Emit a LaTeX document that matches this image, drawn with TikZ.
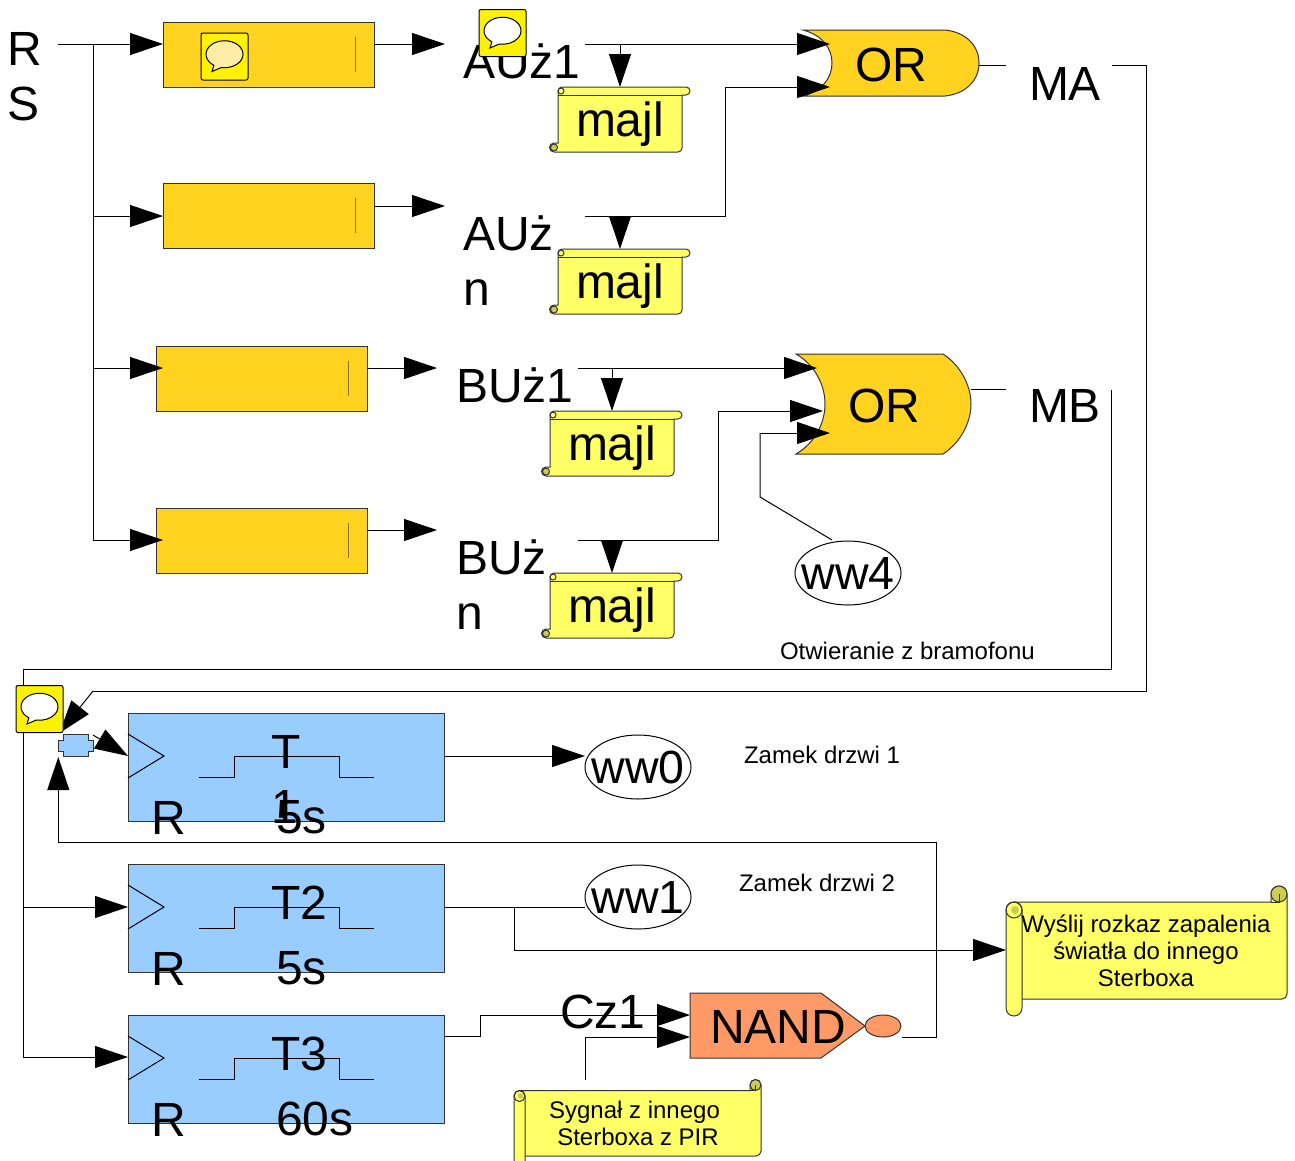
\documentclass[tikz,border=0pt]{standalone}
\usepackage{fontspec}
\setmainfont{Liberation Sans}
\usetikzlibrary{arrows.meta,shapes.geometric}

\definecolor{flopfill}{HTML}{FFD320}
\definecolor{timerfill}{HTML}{99CCFF}
\definecolor{nandfill}{HTML}{FF9966}
\definecolor{scrollfill}{HTML}{FFFF66}
\definecolor{curlfill}{HTML}{CCCC52}
\definecolor{edgegrey}{HTML}{333333}

\tikzset{
  sigtip/.style={-{Triangle[length=33pt,width=22pt]}},
  bigtxt/.style={font=\fontsize{48}{55}\selectfont,inner sep=0pt,outer sep=0pt},
  smalltxt/.style={font=\fontsize{24}{27}\selectfont,inner sep=0pt,outer sep=0pt},
  flop/.style={draw=edgegrey,fill=flopfill,minimum width=211pt,minimum height=65pt,inner sep=0pt,outer sep=0pt},
  timer/.style={draw=edgegrey,fill=timerfill,minimum width=316pt,minimum height=108pt,inner sep=0pt,outer sep=0pt},
  majltxt/.style={bigtxt,minimum width=124pt,minimum height=65pt,text depth=0pt},
  wwnode/.style={bigtxt,font=\fontsize{46.5}{55}\selectfont,draw,ellipse,minimum width=106pt,minimum height=64pt,inner xsep=-10pt},
  pics/chatbox/.style={code={
    \draw[fill=yellow,rounded corners=2pt] (-23.5,-23.5) rectangle (23.5,23.5);
    \draw[fill=#1] (-10.6,8.8) arc [start angle=125,end angle=460,x radius=18.5,y radius=13.5] -- (-12.5,15) -- cycle;
  }},
  pics/chatbox/.default=white,
  pics/majlscroll/.style={code={
    \draw[edgegrey,fill=scrollfill] (5,4) arc [start angle=180,end angle=270,radius=4] -- (133,0)
      arc [start angle=-90,end angle=90,radius=4] -- (129,8) -- (129,61)
      arc [start angle=0,end angle=90,radius=4] -- (1,65)
      arc [start angle=90,end angle=270,radius=4.5] -- (5,56) -- cycle;
    \draw[edgegrey] (5,8) -- (129,8);
    \draw[edgegrey,fill=curlfill] (1,60.5) circle (3.5);
    \draw[edgegrey] (8,4) circle (3);
  }}
}

% left, top, right, bottom, column width, column bottom
\newcommand{\longscroll}[6]{%
  \draw[edgegrey,fill=scrollfill] (#1+#5/2,#2) -- (#3-#5,#2) -- (#3-#5,#2-#5/2)
    arc [start angle=180,end angle=360,radius=#5/2] -- (#3,#4-5)
    arc [start angle=0,end angle=90,radius=5] -- (#1+#5,#4);
  \draw[edgegrey,fill=scrollfill] (#1,#2+#5/2) arc [start angle=180,end angle=360,radius=#5/2]
    -- (#1+#5,#6-#5/2) arc [start angle=0,end angle=180,radius=#5/2] -- cycle;
  \draw[edgegrey,fill=curlfill] (#3-#5/2,#2-#5/2) circle (#5/2);
  \draw[edgegrey] (#3-#5,#2) -- (#3-#5/2,#2) -- (#3-#5/2,#2-#5/2);
  \draw[edgegrey] (#1+#5/2,#2+#5/2) circle (#5/2);
  \fill[curlfill] (#1+#5/2+1,#2+#5/2) circle (#5/4);
}

\begin{document}
\begin{tikzpicture}[x=1pt,y=-1pt,line width=1pt]
  \useasboundingbox (0,0) rectangle (1295,1160);

  % upper blocks
  \foreach \n/\x/\y in {a/163/22,b/163/183,c/156/346,d/156/508} {%
    \node[flop] (flop\n) at (\x+105.5,\y+33) {};
    \draw[edgegrey!60!flopfill,line width=.7pt] (\x+192,\y+15) -- (\x+192,\y+50);
  }

  % majl scrolls
  \foreach \n/\x/\y in {a/553/87,b/553/249,c/545/411,d/545/573} {%
    \begin{scope}[shift={(\x,\y)}]
      \pic at (0,0) {majlscroll};
      \node[majltxt] (majl\n) at (67,32.5) {majl};
    \end{scope}
  }

  % OR gates
  \draw[edgegrey,fill=flopfill] (803,30) -- (945,30) .. controls (965,32) and (979,45) .. (979,63)
    .. controls (979,81) and (965,94) .. (945,96) -- (803,96)
    .. controls (822,91) and (832,78) .. (832,63) .. controls (832,48) and (822,35) .. (803,30) -- cycle;
  \draw[edgegrey,fill=flopfill] (796,354) -- (943,354) .. controls (960,365) and (971,385) .. (971,404)
    .. controls (971,423) and (960,443) .. (943,454) -- (796,454)
    .. controls (815,443) and (825,423) .. (825,404) .. controls (825,385) and (815,365) .. (796,354) -- cycle;
  \node[bigtxt,anchor=base] (ora) at (891,81) {OR};
  \node[bigtxt,anchor=base] (orb) at (884,422) {OR};

  % timers
  \foreach \n/\y/\name/\delay in {a/713/{T\\1}/5s,b/864/T2/5s,c/1015/T3/60s} {%
    \node[timer] (timer\n) at (286,\y+54) {};
    \draw (128,\y+21) -- (164,\y+43) -- (128,\y+65);
    \draw (199,\y+64) -- (234,\y+64) -- (234,\y+43) -- (339,\y+43) -- (339,\y+64) -- (374,\y+64);
    \node[bigtxt,anchor=base west] (timerr\n) at (151,\y+121) {R};
    \node[bigtxt,anchor=base west] (delay\n) at (276,\y+120) {\delay};
    \node[bigtxt,anchor=north west,align=left] (name\n) at (271,\y+22) {\name};
  }

  % labels
  \node[bigtxt,anchor=north west,align=left] (rs) at (8,32) {R\\S};
  \node[bigtxt,anchor=base west] (aua) at (463,78) {AUż1};
  \node[bigtxt,anchor=north west,align=left] (aub) at (463,216) {AUż\\n};
  \node[bigtxt,anchor=base west] (bua) at (456,402) {BUż1};
  \node[bigtxt,anchor=north west,align=left] (bub) at (456,540) {BUż\\n};
  \node[bigtxt,anchor=base west] (ma) at (1029,100) {MA};
  \node[bigtxt,anchor=base west] (mb) at (1029,422) {MB};
  \node[smalltxt,anchor=base west] (bram) at (780,659) {Otwieranie z bramofonu};
  \node[smalltxt,anchor=base west] (zama) at (744,763) {Zamek drzwi 1};
  \node[smalltxt,anchor=base west] (zamb) at (739,891) {Zamek drzwi 2};

  % output nodes
  \node[wwnode] (wwf) at (848,573) {ww4};
  \node[wwnode] (wwa) at (638,767) {ww0};
  \node[wwnode] (wwb) at (638,897) {ww1};

  % NAND
  \draw[edgegrey,fill=nandfill] (690,993) -- (821,993) -- (865,1026) -- (821,1058) -- (690,1058) -- cycle;
  \node[bigtxt] (nand) at (778,1027) {NAND};
  \node[draw=edgegrey,fill=nandfill,ellipse,minimum width=36pt,minimum height=22pt,inner sep=0pt] (nandbub) at (883,1026) {};

  % joiner
  \draw[edgegrey,fill=timerfill,line width=.8pt] (63.3,734.5) -- (88.3,734.5) -- (88.3,740) -- (93.3,740) -- (93.3,751)
    -- (88.3,751) -- (88.3,756) -- (63.3,756) -- (63.3,751) -- (58.3,751) -- (58.3,740) -- (63.3,740) -- cycle;

  % text scrolls
  \longscroll{1006}{902}{1287}{999}{16}{1016}
  \node[smalltxt,align=center] (lighttxt) at (1146,951) {Wyślij rozkaz zapalenia\\światła do innego\\Sterboxa};
  \longscroll{514}{1090.5}{761}{1156}{11}{1172}
  \node[smalltxt,align=center] (pirtxt) at (638,1123) {Sygnał z innego\hspace*{7pt}\\Sterboxa z PIR};
  \node[bigtxt,anchor=base west] (cza) at (560,1028) {Cz1};

  % connector ends
  \coordinate (rsout) at (58,44);
  \coordinate (bus) at (93,44);
  \coordinate (bush) at (93,368);
  \coordinate (bust) at (93,540);
  \coordinate (auaout) at (585,44);
  \coordinate (aubout) at (585,216);
  \coordinate (buaout) at (578,368);
  \coordinate (bubout) at (578,540);
  \coordinate (orain) at (830,44);
  \coordinate (orbin) at (830,87);
  \coordinate (orcin) at (817,368);
  \coordinate (ordin) at (823,411);
  \coordinate (orein) at (830,433);
  \coordinate (maout) at (1006,65);
  \coordinate (mbout) at (1006,389);
  \coordinate (main) at (1112,65);
  \coordinate (mbin) at (1111,390);
  \coordinate (jointop) at (59.5,733);
  \coordinate (joinbot) at (58.3,757);
  \coordinate (joinout) at (93,735);
  \coordinate (clk) at (128,756);

  % RS bus
  \draw[sigtip] (rsout) -- (flopa.west |- rsout);
  \draw (bus) -- (bust);
  \draw[sigtip] (bus |- 0,216) -- (flopb.west |- 0,216);
  \draw[sigtip] (bush) -- (163,368);
  \draw[sigtip] (bust) -- (163,540);

  % block outputs
  \draw[sigtip] (flopa.east |- rsout) -- (445,44);
  \draw[sigtip] (flopb.east |- 0,206) -- (445,206);
  \draw[sigtip] (flopc.east |- bush) -- (437,368);
  \draw[sigtip] (flopd.east |- 0,530) -- (437,530);

  % into the majl scrolls and OR gates
  \draw[sigtip] (auaout) -- (orain);
  \draw[sigtip] (majla.north |- auaout) -- (majla.north);
  \draw (aubout) -- (725,216) -- (725,87);
  \draw[sigtip] (725,87) -- (orbin);
  \draw[sigtip] (majlb.north |- aubout) -- (majlb.north);
  \draw[sigtip] (buaout) -- (orcin);
  \draw[sigtip] (majlc.north |- buaout) -- (majlc.north);
  \draw (bubout) -- (718,540) -- (718,411);
  \draw[sigtip] (718,411) -- (ordin);
  \draw[sigtip] (majld.north |- bubout) -- (majld.north);
  \draw (832,540) -- (760,497) -- (760,433);
  \draw[sigtip] (760,433) -- (orein);

  % OR outputs
  \draw (971,389) -- (mbout);
  \draw (979,65) -- (maout);
  \draw (main) -- (1146,65) -- (1146,691) -- (93,691);
  \draw[sigtip] (93,691) -- (jointop);
  \draw (mbin) -- (1111,669) -- (23,669) -- (23,1057);
  \draw[sigtip] (23,907) -- (timerb.west |- 23,907);
  \draw[sigtip] (23,1057) -- (timerc.west |- 23,1057);

  % timers out
  \draw[sigtip] (joinout) -- (clk);
  \draw (nandbub.east |- 0,1037) -- (936,1037) -- (936,842) -- (58.3,842);
  \draw[sigtip] (58.3,842) -- (joinbot);
  \draw[sigtip] (timera.east |- clk) -- (wwa.west |- clk);
  \draw (timerb.east |- 0,907) -- (wwb.west |- 0,907);
  \draw (514,907) -- (514,950);
  \draw[sigtip] (514,950) -- (1006,950);
  \draw (timerc.east |- 0,1036) -- (480,1036) -- (480,1015);
  \draw[sigtip] (480,1015) -- (690,1015);
  \draw (585,1080) -- (585,1037);
  \draw[sigtip] (585,1037) -- (690,1037);

  % chat marks
  \pic at (224.5,56.5) {chatbox={flopfill!40!white}};
  \pic at (502.5,33) {chatbox};
  \pic at (39.5,709) {chatbox};
\end{tikzpicture}
\end{document}
